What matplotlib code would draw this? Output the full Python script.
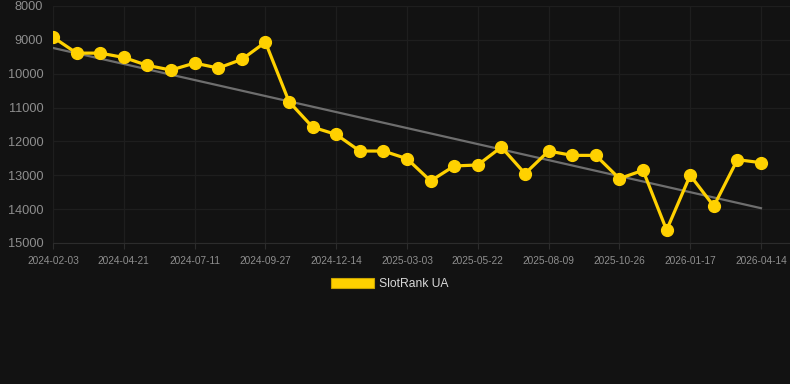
import numpy as np
import matplotlib
matplotlib.use("Agg")
import matplotlib.pyplot as plt
from matplotlib.patches import Patch

# rank values, one point per snapshot (evenly spaced categories)
ranks = [8920, 9392, 9392, 9520, 9755, 9892, 9686, 9833, 9578, 9069,
         10824, 11578, 11794, 12284, 12284, 12510, 13167, 12725, 12696, 12167,
         12951, 12284, 12412, 12412, 13098, 12853, 14618, 13000, 13912, 12539,
         12627]
tick_labels = ['2024-02-03', '2024-04-21', '2024-07-11', '2024-09-27',
               '2024-12-14', '2025-03-03', '2025-05-22', '2025-08-09',
               '2025-10-26', '2026-01-17', '2026-04-14']
y_ticks = [8000, 9000, 10000, 11000, 12000, 13000, 14000, 15000]
series_name = 'SlotRank UA'

bg = '#121212'
yellow = '#FFD100'

plt.rcParams['font.family'] = ['Liberation Sans', 'DejaVu Sans']

fig = plt.figure(figsize=(7.9, 3.84), dpi=100, facecolor=bg)
ax = fig.add_axes([53 / 790, 1 - 243 / 384, 737 / 790, 237 / 384])
ax.set_facecolor(bg)

x = np.arange(len(ranks))

# trend line (least squares)
k, b = np.polyfit(x, ranks, 1)
ax.plot(x, k * x + b, color='#6e6e6e', lw=1.6, zorder=2)

ax.plot(x, ranks, color=yellow, lw=2.3, marker='o', markersize=8.5,
        markerfacecolor=yellow, markeredgecolor=yellow, zorder=3)

ax.set_ylim(15000, 8000)
ax.set_yticks(y_ticks)
ax.set_yticklabels([str(v) for v in y_ticks])
ax.set_xlim(0, (790 - 53) / ((761 - 53) / 30))
ax.set_xticks(x[::3])
ax.set_xticklabels(tick_labels)

ax.grid(True, color='#1e1e1e', lw=0.9)
ax.set_axisbelow(True)
for s in ax.spines.values():
    s.set_visible(False)
ax.spines['bottom'].set_visible(True)
ax.spines['bottom'].set_color('#2c2c2c')
ax.tick_params(axis='y', colors='#8e8e8e', labelsize=9.2, length=0, pad=7)
ax.tick_params(axis='x', colors='#8e8e8e', labelsize=7.3, length=4, pad=5,
               color='#2c2c2c')

leg = fig.legend(handles=[Patch(facecolor=yellow, edgecolor='#c9a400', lw=0.8)],
                 labels=[series_name], loc='center', bbox_to_anchor=(390 / 790, 1 - 284 / 384),
                 frameon=False, fontsize=8.7, handlelength=3.5, handleheight=0.95,
                 handletextpad=0.45, labelcolor='#d8d8d8')

fig.savefig('out.png', dpi=100, facecolor=bg)
